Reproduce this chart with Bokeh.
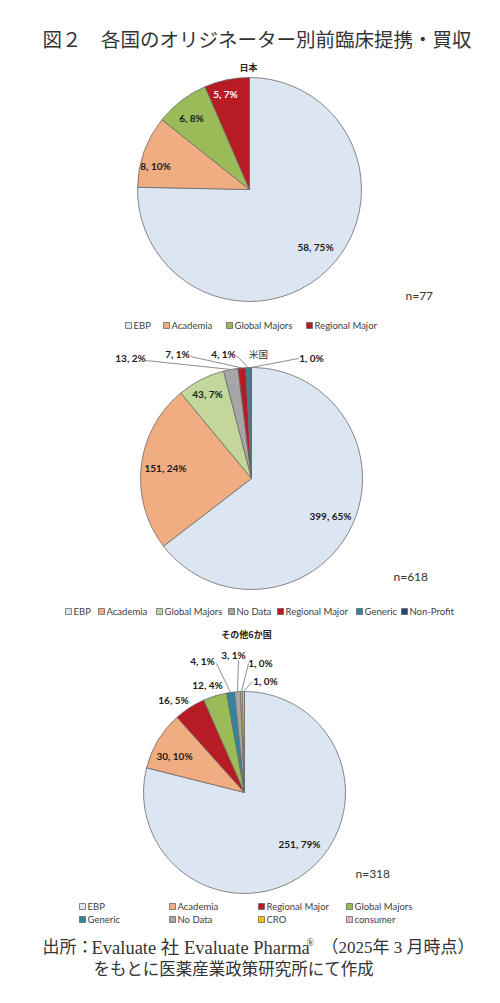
import numpy as np
from bokeh.plotting import figure
from bokeh.core.properties import value
from bokeh.embed import file_html
from bokeh.resources import INLINE

# データ
japan_names = ["EBP", "Academia", "Global Majors", "Regional Major"]
japan_counts = [58, 8, 6, 5]
japan_pcts = [75, 10, 8, 7]

us_names = ["EBP", "Academia", "Global Majors", "No Data", "Regional Major", "Generic", "Non-Profit"]
us_counts = [399, 151, 43, 13, 7, 4, 1]
us_pcts = [65, 24, 7, 2, 1, 1, 0]

other_names = ["EBP", "Academia", "Regional Major", "Global Majors", "Generic", "No Data", "CRO", "consumer"]
other_counts = [251, 30, 16, 12, 4, 3, 1, 1]
other_pcts = [79, 10, 5, 4, 1, 1, 0, 0]

colors = {
    "EBP": "#dce6f2",
    "Academia": "#f0ad82",
    "Global Majors": "#9bbb59",
    "Regional Major": "#b71c25",
    "No Data": "#a6a6a6",
    "Generic": "#31859c",
    "Non-Profit": "#1f497d",
    "CRO": "#ffc000",
    "consumer": "#e6b9b8",
}
us_colors = dict(colors)
us_colors["Global Majors"] = "#c3d69b"

W, H = 484, 987
p = figure(width=W, height=H, x_range=(0, W), y_range=(0, H), output_backend="svg",
           toolbar_location=None, min_border=0)
p.axis.visible = False
p.grid.visible = False
p.outline_line_color = None
p.background_fill_color = "white"

# 画面座標 -> データ座標
def X(x):
    return x

def Y(y):
    return H - y

LABEL_FONT = value("Lato")
JP_FONT = value("Noto Sans CJK JP")


def draw_pie(cx, cy, r, names, counts, pcts, cmap, label_pos, label_colors, leaders):
    counts = np.array(counts, dtype=float)
    frac = counts / counts.sum()
    cum = np.concatenate([[0], np.cumsum(frac)])
    start = np.pi / 2 - 2 * np.pi * cum[:-1]
    end = np.pi / 2 - 2 * np.pi * cum[1:]
    fills = [cmap[n] for n in names]
    p.wedge(x=X(cx), y=Y(cy), radius=r, start_angle=start, end_angle=end, direction="clock",
            fill_color=fills, line_color="#6b6b6b", line_width=0.8)
    mid = (start + end) / 2
    for i, anchor in leaders.items():
        ex = X(cx) + r * np.cos(mid[i])
        ey = Y(cy) + r * np.sin(mid[i])
        p.line([X(anchor[0]), ex], [Y(anchor[1]), ey], line_color="#808080", line_width=0.9)
    texts = [f"{int(c)}, {q}%" for c, q in zip(counts, pcts)]
    p.text(x=[X(a) for a, b in label_pos], y=[Y(b) for a, b in label_pos], text=texts,
           text_align="center", text_baseline="middle", text_font=LABEL_FONT,
           text_font_style="bold", text_font_size="10px", text_color=label_colors)


def draw_legend(items, cmap, positions):
    for name, (lx, ly) in zip(items, positions):
        p.rect(x=X(lx), y=Y(ly), width=6, height=6, width_units="screen", height_units="screen",
               fill_color=cmap[name], line_color="#595959", line_width=0.7)
        p.text(x=X(lx + 5), y=Y(ly), text=[name], text_baseline="middle", text_font=LABEL_FONT,
               text_font_size="9.5px", text_color="#404040")


# タイトル
p.text(x=X(42), y=Y(38), text=["図２　各国のオリジネーター別前臨床提携・買収"], text_baseline="middle",
       text_font=JP_FONT, text_font_size="19.5px", text_color="#333333")

# 日本
p.text(x=X(248), y=Y(67), text=["日本"], text_align="center", text_baseline="middle",
       text_font=JP_FONT, text_font_style="bold", text_font_size="9px", text_color="#222222")
draw_pie(249, 189, 112, japan_names, japan_counts, japan_pcts, colors,
         [(315, 246), (155, 165), (191, 117), (225, 93)],
         ["#1a1a1a", "#1a1a1a", "#1a1a1a", "white"], {})
p.text(x=X(405), y=Y(295), text=["n=77"], text_baseline="middle", text_font=LABEL_FONT,
       text_font_size="12px", text_color="#333333")
draw_legend(japan_names, colors, [(128, 325), (166, 325), (229, 325), (309, 325)])

# 米国
draw_pie(251, 478, 111, us_names, us_counts, us_pcts, us_colors,
         [(330, 515), (165, 467), (207, 393), (130, 357), (177, 353), (223, 353), (311, 357)],
         ["#1a1a1a"] * 7,
         {3: (145, 360), 4: (190, 356), 5: (236, 355), 6: (298, 358)})
p.text(x=X(258), y=Y(353), text=["米国"], text_align="center", text_baseline="middle",
       text_font=JP_FONT, text_font_size="9.5px", text_color="#333333")
p.text(x=X(393), y=Y(576), text=["n=618"], text_baseline="middle", text_font=LABEL_FONT,
       text_font_size="12px", text_color="#333333")
draw_legend(us_names, us_colors,
            [(68, 611), (101, 611), (159, 611), (231, 611), (280, 611), (359, 611), (404, 611)])

# その他6か国
p.text(x=X(246), y=Y(634), text=["その他6か国"], text_align="center", text_baseline="middle",
       text_font=JP_FONT, text_font_style="bold", text_font_size="9px", text_color="#222222")
draw_pie(244, 792, 101, other_names, other_counts, other_pcts, colors,
         [(299, 843), (174, 755), (173, 699), (207, 684), (202, 660), (233, 654), (260, 662), (265, 680)],
         ["#1a1a1a"] * 8,
         {4: (216, 663), 5: (238, 660), 6: (248, 663), 7: (252, 681)})
p.text(x=X(355), y=Y(873), text=["n=318"], text_baseline="middle", text_font=LABEL_FONT,
       text_font_size="12px", text_color="#333333")
draw_legend(other_names, colors,
            [(82, 906), (172, 906), (261, 906), (349, 906),
             (82, 919), (172, 919), (261, 919), (349, 919)])

# 出所
SERIF = value("Liberation Serif, Noto Sans CJK JP")
src_kw = dict(text_baseline="middle", text_font=SERIF, text_color="#333333")
p.text(x=X(42), y=Y(947), text=["出所："], text_font_size="17px", **src_kw)
p.text(x=X(91), y=Y(947), text=["Evaluate 社 Evaluate Pharma"], text_font_size="18.5px", **src_kw)
p.text(x=X(306), y=Y(942), text=["®"], text_font_size="10px", **src_kw)
p.text(x=X(474), y=Y(947), text=["（2025年 3 月時点）"], text_font_size="17px",
       text_align="right", **src_kw)
p.text(x=X(93), y=Y(969), text=["をもとに医薬産業政策研究所にて作成"],
       text_font_size="16.5px", **src_kw)

open("out.html", "w").write(file_html(p, INLINE))
